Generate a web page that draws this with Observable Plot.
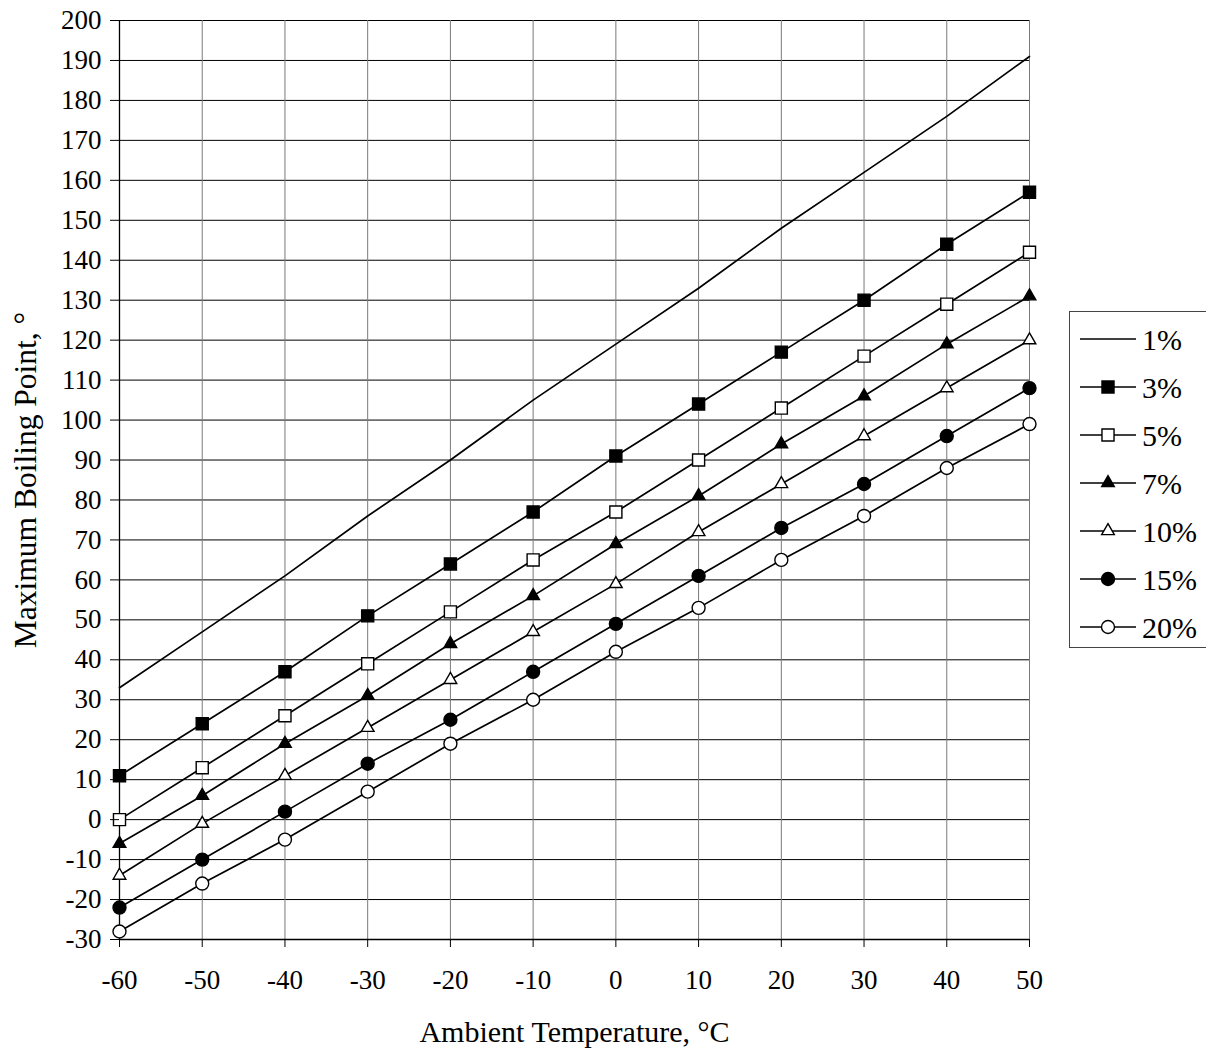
<!DOCTYPE html>
<html>
<head>
<meta charset="utf-8">
<script src="https://cdn.jsdelivr.net/npm/d3@7"></script>
<script src="https://cdn.jsdelivr.net/npm/@observablehq/plot@0.6"></script>
<style>
  html, body { margin: 0; padding: 0; background: #fff; overflow: hidden; }
  #wrap { position: relative; width: 1206px; height: 1050px; }
  #legend { position: absolute; left: 1069px; top: 311px; }
  #chart svg g[aria-label='y-axis tick label'] text,
  #chart svg g[aria-label='x-axis tick label'] text { font-size: 27px; }
</style>
</head>
<body>
<div id="wrap"><div id="chart"></div><div id="legend"></div></div>
<script>
const temps = [-60, -50, -40, -30, -20, -10, 0, 10, 20, 30, 40, 50];
const s1  = [33, 47, 61, 76, 90, 105, 119, 133, 148, 162, 176, 191];
const s3  = [11, 24, 37, 51, 64, 77, 91, 104, 117, 130, 144, 157];
const s5  = [0, 13, 26, 39, 52, 65, 77, 90, 103, 116, 129, 142];
const s7  = [-6, 6, 19, 31, 44, 56, 69, 81, 94, 106, 119, 131];
const s10 = [-14, -1, 11, 23, 35, 47, 59, 72, 84, 96, 108, 120];
const s15 = [-22, -10, 2, 14, 25, 37, 49, 61, 73, 84, 96, 108];
const s20 = [-28, -16, -5, 7, 19, 30, 42, 53, 65, 76, 88, 99];
const seriesNames = ["1%", "3%", "5%", "7%", "10%", "15%", "20%"];
const xTicks = [-60, -50, -40, -30, -20, -10, 0, 10, 20, 30, 40, 50];
const yTicks = d3.range(-30, 201, 10);

const seriesValues = [s1, s3, s5, s7, s10, s15, s20];
// marker style per series: [symbol, fill, r]
const markerStyle = {
  "1%":  null,
  "3%":  ["square", "black", 6.8],
  "5%":  ["square", "white", 6.8],
  "7%":  ["triangle", "black", 4.7],
  "10%": ["triangle", "white", 4.7],
  "15%": ["circle", "black", 6.5],
  "20%": ["circle", "white", 6.5]
};

const rows = [];
seriesNames.forEach((name, i) => {
  temps.forEach((t, j) => rows.push({series: name, t, v: seriesValues[i][j]}));
});

const font = "'Liberation Serif', 'Times New Roman', serif";
const fmt = d => String(d);

const marks = [
  Plot.gridY(yTicks, {stroke: "black", strokeOpacity: 1, strokeWidth: 1}),
  Plot.gridX(xTicks, {stroke: "#7a7a7a", strokeOpacity: 1, strokeWidth: 1}),
  Plot.ruleX([-60], {stroke: "black", strokeWidth: 1.3}),
  Plot.ruleY([-30], {stroke: "black", strokeWidth: 1.3}),
  Plot.line(rows, {x: "t", y: "v", z: "series", stroke: "black", strokeWidth: 1.7})
];
for (const name of seriesNames) {
  const st = markerStyle[name];
  if (!st) continue;
  marks.push(Plot.dot(rows.filter(d => d.series === name), {
    x: "t", y: "v", symbol: () => st[0], r: st[2], fill: st[1], stroke: "black", strokeWidth: 1.4
  }));
}
marks.push(
  Plot.axisX(xTicks, {tickSize: 8, tickPadding: 22, tickFormat: fmt, label: "Ambient Temperature, °C", labelArrow: "none", labelAnchor: "center", labelOffset: 102, stroke: "black"}),
  Plot.axisY(yTicks, {tickSize: 9, tickPadding: 9, tickFormat: fmt, label: "Maximum Boiling Point, °", labelArrow: "none", labelAnchor: "center", labelOffset: 106, stroke: "black"})
);

const chart = Plot.plot({
  width: 1206,
  height: 1050,
  marginLeft: 119,
  marginRight: 177,
  marginTop: 20,
  marginBottom: 111,
  style: {fontFamily: font, fontSize: "24px", color: "black", background: "white"},
  x: {domain: [-60, 50]},
  y: {domain: [-30, 200]},
  symbol: {type: "identity"},
  marks
});
d3.select(chart).selectAll("[aria-label='x-axis label'] text")
  .style("font-size", "30px");
d3.select(chart).selectAll("[aria-label='y-axis label'] text")
  .style("font-size", "31.5px");
document.getElementById("chart").appendChild(chart);

// Legend
const lw = 150, lh = 337;
const lsvg = d3.select("#legend").append("svg").attr("width", lw).attr("height", lh)
  .style("font-family", font);
lsvg.append("rect").attr("x", 0.5).attr("y", 0.5).attr("width", lw + 10).attr("height", lh - 1)
  .attr("fill", "white").attr("stroke", "#444").attr("stroke-width", 1);
seriesNames.forEach((name, i) => {
  const cy = 28 + i * 48;
  const g = lsvg.append("g");
  g.append("line").attr("x1", 11).attr("x2", 67).attr("y1", cy).attr("y2", cy)
    .attr("stroke", "black").attr("stroke-width", 1.7);
  const st = markerStyle[name];
  if (st) {
    const sym = st[0] === "square" ? d3.symbolSquare : st[0] === "triangle" ? d3.symbolTriangle : d3.symbolCircle;
    g.append("path").attr("d", d3.symbol(sym, Math.PI * st[2] * st[2])())
      .attr("transform", `translate(39,${cy})`)
      .attr("fill", st[1]).attr("stroke", "black").attr("stroke-width", 1.4);
  }
  g.append("text").attr("x", 73).attr("y", cy).attr("dy", "0.35em")
    .attr("font-size", 30).text(name);
});
</script>
</body>
</html>
